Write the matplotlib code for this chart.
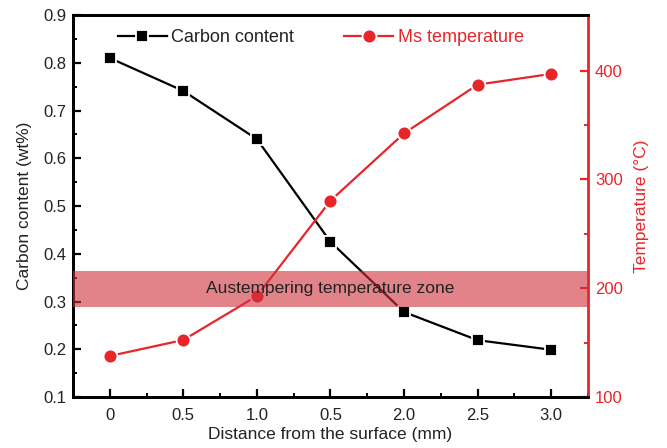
import matplotlib
matplotlib.use("Agg")
import matplotlib.pyplot as plt
from matplotlib.ticker import MultipleLocator

plt.rcParams['font.family'] = ['Liberation Sans', 'DejaVu Sans']

distance = [0, 0.5, 1.0, 1.5, 2.0, 2.5, 3.0]
x_tick_labels = ['0', '0.5', '1.0', '0.5', '2.0', '2.5', '3.0']
carbon = [0.81, 0.741, 0.640, 0.425, 0.278, 0.219, 0.199]
ms_temp = [137.7, 152.4, 192.8, 280.4, 342.3, 387.0, 396.9]
zone_low, zone_high = 183, 216

RED = '#E8262A'
TXT = '#222222'

fig = plt.figure(figsize=(6.67, 4.48), dpi=100)
ax = fig.add_axes([0.1094, 0.1138, 0.7722, 0.8527])
ax2 = ax.twinx()

ln1, = ax.plot(distance, carbon, color='black', lw=1.6, marker='s', ms=9,
               mfc='black', mec='white', mew=1.3, label='Carbon content', zorder=3)
ln2, = ax2.plot(distance, ms_temp, color=RED, lw=1.6, marker='o', ms=10,
                mfc=RED, mec='white', mew=1.3, label='Ms temperature', zorder=3)

ax2.axhspan(zone_low, zone_high, color=(0.81, 0.19, 0.23), alpha=0.6, lw=0, zorder=4)
ax2.text(1.5, (zone_low + zone_high) / 2, 'Austempering temperature zone',
         ha='center', va='center', fontsize=12.5, color=TXT, zorder=5)

ax.set_xlim(-0.25, 3.25)
ax.set_ylim(0.1, 0.9)
ax2.set_ylim(100, 451)

ax.set_xticks(distance)
ax.set_xticklabels(x_tick_labels)
ax.xaxis.set_minor_locator(MultipleLocator(0.25))
ax.yaxis.set_minor_locator(MultipleLocator(0.05))
ax.set_yticks([0.1, 0.2, 0.3, 0.4, 0.5, 0.6, 0.7, 0.8, 0.9])
ax.set_yticklabels(['0.1', '0.2', '0.3', '0.4', '0.5', '0.6', '0.7', '0.8', '0.9'])
ax2.yaxis.set_major_locator(MultipleLocator(100))
ax2.yaxis.set_minor_locator(MultipleLocator(50))

ax.tick_params(axis='both', which='major', direction='in', length=6, width=1.6,
               labelsize=12, colors='black', labelcolor=TXT, top=False, right=False,
               pad=5)
ax.tick_params(axis='x', which='major', pad=8)
ax.tick_params(axis='both', which='minor', direction='in', length=3, width=1.4,
               top=False, right=False)
ax2.tick_params(axis='y', which='major', direction='in', length=6, width=1.6,
                labelsize=12, colors=RED, pad=5)
ax2.tick_params(axis='y', which='minor', direction='in', length=3, width=1.4, colors=RED)

for s in ['left', 'bottom', 'top']:
    ax.spines[s].set_linewidth(2.0)
    ax2.spines[s].set_linewidth(2.0)
ax2.spines['right'].set_color(RED)
ax2.spines['right'].set_linewidth(2.0)
ax.spines['right'].set_visible(False)

ax.set_xlabel('Distance from the surface (mm)', fontsize=12.5, color=TXT, labelpad=3)
ax.set_ylabel('Carbon content (wt%)', fontsize=12.5, color=TXT, labelpad=8)
ax2.set_ylabel('Temperature (°C)', fontsize=12.5, color=RED, labelpad=8)

leg = ax.legend([ln1, ln2], ['Carbon content', 'Ms temperature'], ncol=2,
                loc='center left', bbox_to_anchor=(0.087, 0.94), frameon=False,
                fontsize=13, handlelength=2.7, handletextpad=0.25,
                columnspacing=2.8, borderpad=0, borderaxespad=0)
leg.get_texts()[0].set_color(TXT)
leg.get_texts()[1].set_color(RED)
leg.set_zorder(10)

fig.savefig('out.png', dpi=100)
